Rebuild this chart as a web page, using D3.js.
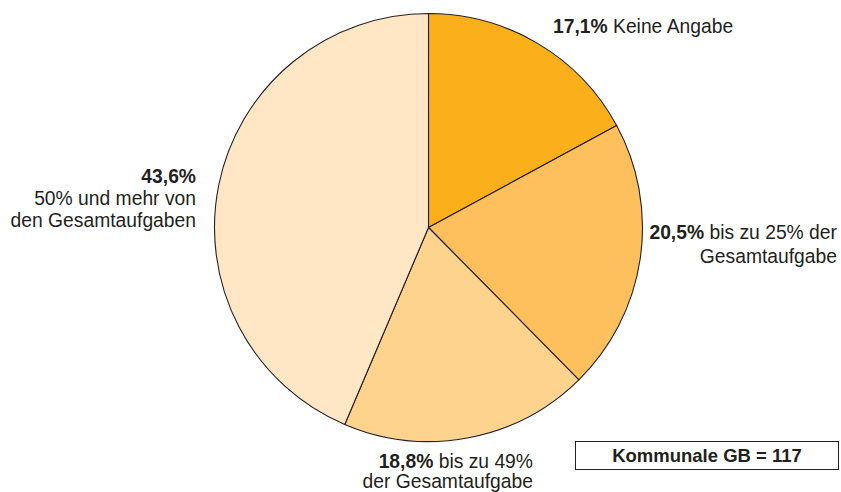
<!DOCTYPE html>
<html>
<head>
<meta charset="utf-8">
<script src="https://cdn.jsdelivr.net/npm/d3@7"></script>
<style>
  html, body { margin: 0; padding: 0; background: #fff; }
  svg { display: block; }
  text { font-family: "Liberation Sans", Arial, sans-serif; fill: #231f20; }
</style>
</head>
<body>
<svg id="chart" width="841" height="492"></svg>
<script>
// Share of tasks (percent), clockwise from 12 o'clock
const categories = ["Keine Angabe", "bis zu 25% der Gesamtaufgabe", "bis zu 49% der Gesamtaufgabe", "50% und mehr von den Gesamtaufgaben"];
const values = [17.1, 20.5, 18.8, 43.6];
const valueLabels = ["17,1%", "20,5%", "18,8%", "43,6%"];
const colors = ["#fbaf1a", "#fdc05d", "#fed38e", "#ffe6c4"];
const totalLabel = "Kommunale GB = 117";

const svg = d3.select("#chart");
const cx = 428.5, cy = 227.5, radius = 214;

const pie = d3.pie().sort(null).value(d => d)(values);
const arc = d3.arc().innerRadius(0).outerRadius(radius);

const g = svg.append("g").attr("transform", `translate(${cx},${cy})`);
g.selectAll("path")
  .data(pie)
  .join("path")
  .attr("d", arc)
  .attr("fill", (d, i) => colors[i])
  .attr("stroke", "#231f20")
  .attr("stroke-width", 1.1)
  .attr("stroke-linejoin", "round");

// Label layout: each line is [bold part, regular part]
const labels = [
  { x: 553, y: 32.5, anchor: "start", lines: [[valueLabels[0], " Keine Angabe"]] },
  { x: 837, y: 239, anchor: "end", lines: [[valueLabels[1], " bis zu 25% der"], ["", "Gesamtaufgabe"]] },
  { x: 533, y: 468, anchor: "end", lines: [[valueLabels[2], " bis zu 49%"], ["", "der Gesamtaufgabe"]] },
  { x: 196, y: 182.5, anchor: "end", lines: [[valueLabels[3], ""], ["", "50% und mehr von"], ["", "den Gesamtaufgaben"]] }
];
const lineH = [0, 23.5, 19.5, 22];

labels.forEach((lab, li) => {
  const t = svg.append("text")
    .attr("text-anchor", lab.anchor)
    .attr("font-size", 19.3);
  lab.lines.forEach((ln, k) => {
    const ts = t.append("tspan").attr("x", lab.x).attr("y", lab.y + k * lineH[li]);
    if (ln[0]) ts.append("tspan").attr("font-weight", "bold").text(ln[0]);
    if (ln[1]) ts.append("tspan").text(ln[1]);
  });
});

// Sample size box
svg.append("rect")
  .attr("x", 575.5).attr("y", 441.5)
  .attr("width", 263).attr("height", 28)
  .attr("fill", "#fff")
  .attr("stroke", "#231f20")
  .attr("stroke-width", 1);
svg.append("text")
  .attr("x", 707).attr("y", 462)
  .attr("text-anchor", "middle")
  .attr("font-size", 18.5)
  .attr("font-weight", "bold")
  .text(totalLabel);
</script>
</body>
</html>
